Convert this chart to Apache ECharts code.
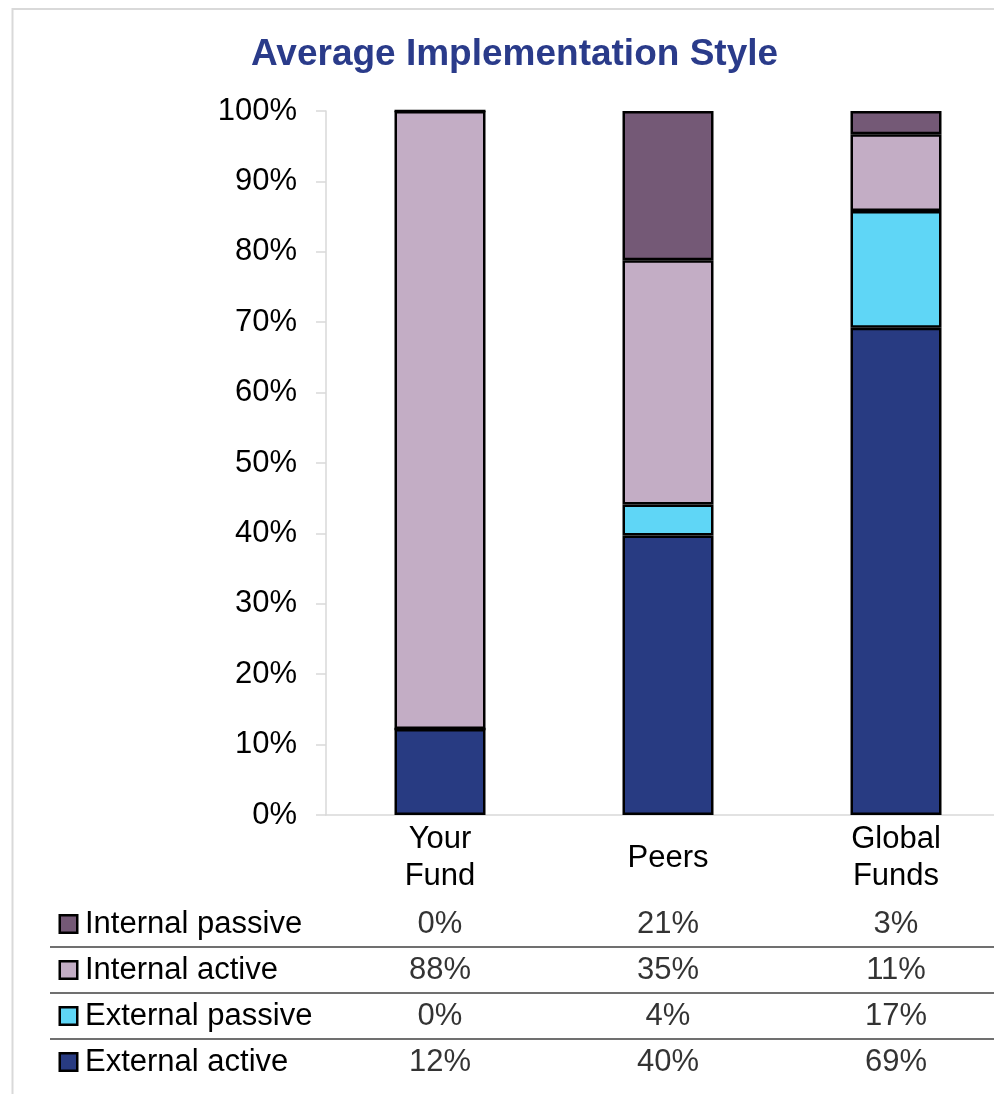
<!DOCTYPE html>
<html>
<head>
<meta charset="utf-8">
<script src="https://cdn.jsdelivr.net/npm/echarts@6/dist/echarts.min.js"></script>
<style>
html,body{margin:0;padding:0;background:#fff;}
#chart{width:994px;height:1094px;}
</style>
</head>
<body>
<div id="chart"></div>
<script>
// ---- data ----
const categories = ['Your\nFund', 'Peers', 'Global\nFunds'];
const seriesNames = ['External active', 'External passive', 'Internal active', 'Internal passive'];
const externalActive = [12.2, 39.7, 69.2];
const externalPassive = [0, 4.4, 16.6];
const internalActive = [87.8, 34.7, 10.9];
const internalPassive = [0, 21.2, 3.3];
const yTicks = [0, 10, 20, 30, 40, 50, 60, 70, 80, 90, 100];
const tableRows = ['Internal passive', 'Internal active', 'External passive', 'External active'];

// ---- styles / layout ----
const FONT = '"Liberation Sans", Arial, sans-serif';
const colors = {
  'External active': '#283B82',
  'External passive': '#5FD6F6',
  'Internal active': '#C3ADC5',
  'Internal passive': '#745976'
};
const W = 994, H = 1094;
const plotLeft = 326, plotRight = 1010, plotTop = 111, plotBottom = 815;
const tableLeft = 50, tableTop = 901, tableBottom = 1085;
const catW = (plotRight - plotLeft) / categories.length;
const tableXMin = -0.5 - (plotLeft - tableLeft) / catW;
const tableXMax = categories.length - 0.5;

const valuesByName = {
  'External active': externalActive,
  'External passive': externalPassive,
  'Internal active': internalActive,
  'Internal passive': internalPassive
};

const barSeries = seriesNames.map(name => ({
  name: name,
  type: 'bar',
  stack: 'total',
  xAxisIndex: 0,
  yAxisIndex: 0,
  barWidth: 91,
  data: valuesByName[name],
  itemStyle: { color: colors[name], borderColor: '#000', borderWidth: 2.5 },
  emphasis: { disabled: true }
}));

const tableData = [];
tableRows.forEach(row => {
  valuesByName[row].forEach((v, ci) => tableData.push([ci, row, v]));
});

const rich = { t: { fontSize: 31, fontFamily: FONT, color: '#000', padding: [0, 0, 0, 9] } };
tableRows.forEach((row, i) => {
  rich['m' + i] = { width: 15, height: 15, backgroundColor: colors[row], borderColor: '#000', borderWidth: 2.5 };
});

const option = {
  animation: false,
  backgroundColor: '#fff',
  title: {
    text: 'Average Implementation Style',
    left: 246, top: 31,
    textStyle: { fontSize: 37, fontWeight: 'bold', fontFamily: FONT, color: '#2A3B8A' }
  },
  graphic: [{
    type: 'rect', silent: true,
    shape: { x: 12.5, y: 9, width: 1100, height: 1200 },
    style: { fill: 'none', stroke: '#D9D9D9', lineWidth: 2 }
  }],
  grid: [
    { left: plotLeft, width: plotRight - plotLeft, top: plotTop, height: plotBottom - plotTop, outerBoundsMode: 'none', containLabel: false },
    { left: tableLeft, width: plotRight - tableLeft, top: tableTop, height: tableBottom - tableTop, outerBoundsMode: 'none', containLabel: false }
  ],
  xAxis: [
    {
      gridIndex: 0, type: 'category', data: categories,
      axisLine: { show: true, lineStyle: { color: '#D9D9D9', width: 1.5 } },
      axisTick: { show: false },
      axisLabel: { fontSize: 31, fontFamily: FONT, color: '#000', lineHeight: 37, margin: 43, verticalAlign: 'middle', interval: 0 },
      splitLine: { show: false }
    },
    {
      gridIndex: 1, type: 'value', min: tableXMin, max: tableXMax, show: false,
      splitLine: { show: false }
    }
  ],
  yAxis: [
    {
      gridIndex: 0, type: 'value', min: yTicks[0], max: yTicks[yTicks.length - 1], interval: yTicks[1] - yTicks[0],
      axisLine: { show: true, lineStyle: { color: '#D9D9D9', width: 1.5 } },
      axisTick: { show: true, length: 10, lineStyle: { color: '#D9D9D9', width: 1.5 } },
      axisLabel: { fontSize: 31, fontFamily: FONT, color: '#000', margin: 29, formatter: '{value}%' },
      splitLine: { show: false }
    },
    {
      gridIndex: 1, type: 'category', data: tableRows, inverse: true,
      axisLine: { show: false }, axisTick: { show: false },
      axisLabel: {
        inside: true, align: 'left', margin: 11,
        formatter: (value, index) => '{m' + index + '|}{t|' + value + '}',
        rich: rich
      },
      splitLine: { show: true, showMinLine: false, showMaxLine: false, lineStyle: { color: '#404040', width: 1.5 } }
    }
  ],
  series: barSeries.concat([{
    name: 'table',
    type: 'scatter',
    xAxisIndex: 1, yAxisIndex: 1,
    symbolSize: 1,
    itemStyle: { color: 'rgba(0,0,0,0)' },
    data: tableData,
    label: {
      show: true, position: 'inside',
      fontSize: 31, fontFamily: FONT, color: '#000',
      formatter: p => Math.round(p.value[2]) + '%'
    },
    emphasis: { disabled: true },
    silent: true
  }])
};

echarts.init(document.getElementById('chart')).setOption(option);
</script>
</body>
</html>
